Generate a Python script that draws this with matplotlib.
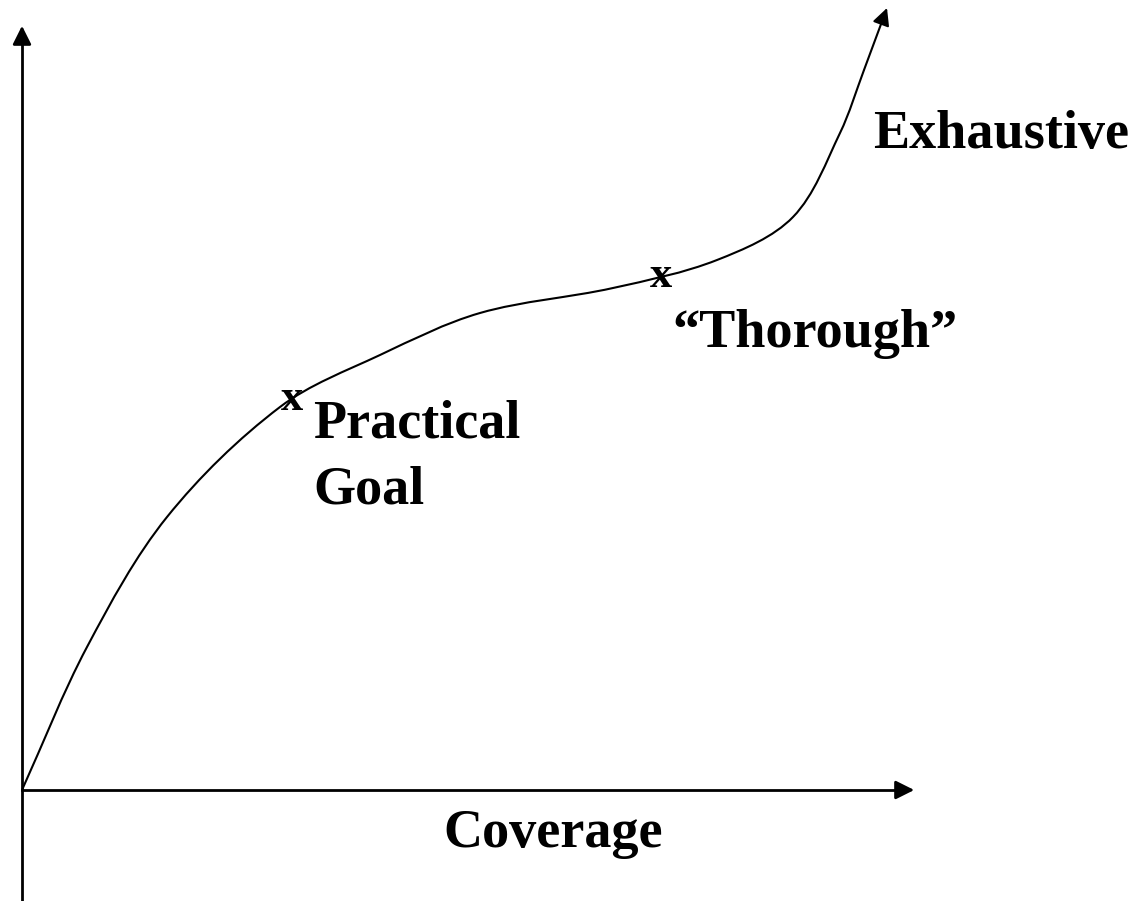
import numpy as np
import matplotlib.pyplot as plt
from matplotlib.path import Path
from matplotlib.patches import PathPatch

# coverage (x) vs effort (y) curve, arbitrary units
coverage = [0, 65, 145, 258, 358, 458, 591, 695, 771, 818, 842, 865]
effort = [0, 143, 273, 383, 435, 477, 502, 530, 573, 657, 720, 782]

# marked points on the curve
marks_x = [270, 639]
marks_y = [380, 503]

x_axis_end = 895
y_axis_end = 767
y_axis_bottom = -111

plt.rcParams['font.family'] = ['Liberation Serif', 'DejaVu Serif']
plt.rcParams['font.weight'] = 'bold'

fig = plt.figure(figsize=(11.3, 9.01), dpi=100)
ax = fig.add_axes([0, 0, 1, 1])
ax.set_xlim(-22, 1108)
ax.set_ylim(-111, 790)
ax.axis('off')

# axes with arrow heads
ax.plot([0, 0], [y_axis_bottom, y_axis_end - 10], color='black', lw=2)
ax.annotate('', xy=(0, y_axis_end), xytext=(0, y_axis_end - 20),
            arrowprops=dict(arrowstyle='-|>', color='black', lw=2, mutation_scale=28))
ax.plot([0, x_axis_end - 10], [0, 0], color='black', lw=2)
ax.annotate('', xy=(x_axis_end, 0), xytext=(x_axis_end - 20, 0),
            arrowprops=dict(arrowstyle='-|>', color='black', lw=2, mutation_scale=28))

# smooth curve through the points (chord-length catmull-rom as bezier segments)
pts = np.column_stack([coverage, effort]).astype(float)
t = np.concatenate([[0], np.cumsum(np.hypot(*np.diff(pts, axis=0).T))])
tang = np.zeros_like(pts)
tang[0] = (pts[1] - pts[0]) / (t[1] - t[0])
tang[-1] = (pts[-1] - pts[-2]) / (t[-1] - t[-2])
for i in range(1, len(pts) - 1):
    tang[i] = (pts[i + 1] - pts[i - 1]) / (t[i + 1] - t[i - 1])
n = len(pts) - 1  # last segment is drawn by the arrow
verts = [pts[0]]
codes = [Path.MOVETO]
for i in range(n - 1):
    h = t[i + 1] - t[i]
    verts += [pts[i] + tang[i] * h / 3, pts[i + 1] - tang[i + 1] * h / 3, pts[i + 1]]
    codes += [Path.CURVE4] * 3
ax.add_patch(PathPatch(Path(verts, codes), facecolor='none', edgecolor='black', lw=1.5))
ax.annotate('', xy=(coverage[-1], effort[-1]), xytext=(coverage[-2], effort[-2]),
            arrowprops=dict(arrowstyle='-|>', color='black', lw=1.5, mutation_scale=26,
                            shrinkA=0, shrinkB=0))

for mx, my in zip(marks_x, marks_y):
    ax.text(mx, my, 'x', fontsize=32, ha='center', va='baseline')

fs = 39
ax.text(851, 642, 'Exhaustive', fontsize=fs, ha='left', va='baseline')
ax.text(650, 443, '\u201cThorough\u201d', fontsize=fs, ha='left', va='baseline')
ax.text(291, 352, 'Practical', fontsize=fs, ha='left', va='baseline')
ax.text(291, 287, 'Goal', fontsize=fs, ha='left', va='baseline')
ax.text(421, -57, 'Coverage', fontsize=fs, ha='left', va='baseline')

fig.savefig('out.png', dpi=100, facecolor='white')
